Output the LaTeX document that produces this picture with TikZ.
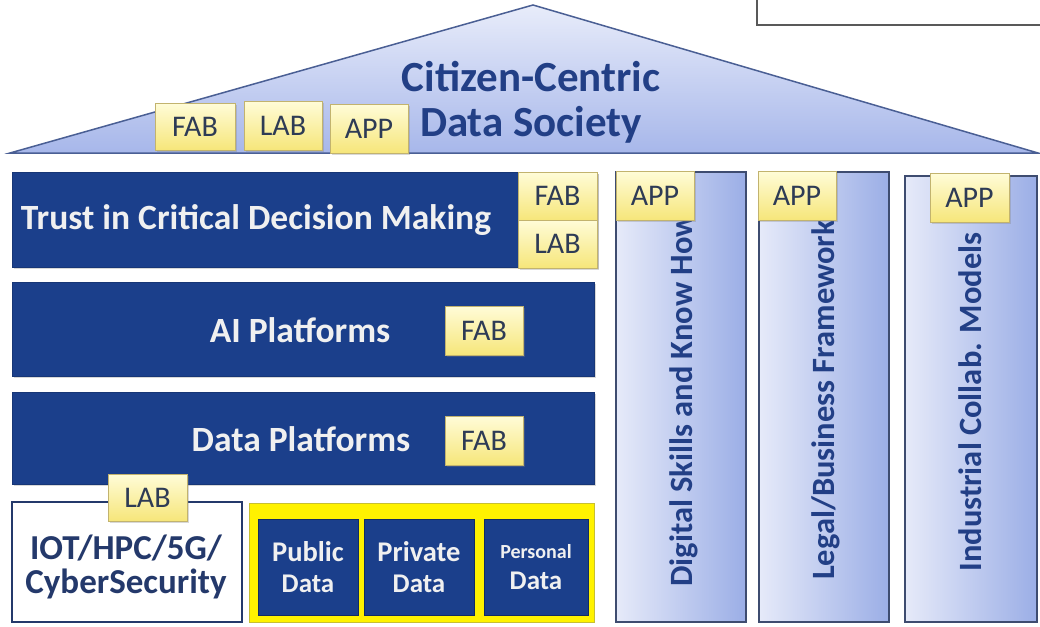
\documentclass[tikz,border=0pt]{standalone}
\usepackage{fontspec}
\setmainfont{Carlito}
\usetikzlibrary{shadows}
\definecolor{barblue}{HTML}{1B3F8B}
\definecolor{roofL}{HTML}{E8ECFA}
\definecolor{roofD}{HTML}{A7B7EA}
\definecolor{roofline}{HTML}{4A5F94}
\definecolor{titleblue}{HTML}{223F86}
\definecolor{tagtop}{HTML}{FFFCD8}
\definecolor{tagbot}{HTML}{F6E67A}
\definecolor{tagborder}{HTML}{C2B36E}
\definecolor{tagtext}{HTML}{2E3B55}
\definecolor{pilL}{HTML}{E6EAF9}
\definecolor{pilR}{HTML}{9BAEE6}
\definecolor{pilborder}{HTML}{3E4C70}
\definecolor{iotblue}{HTML}{24396B}
\tikzset{
  bar/.style={rectangle, fill=barblue, draw=barblue!85!black, line width=0.8pt, inner sep=0pt,
    drop shadow={shadow xshift=1.5pt, shadow yshift=-1.5pt, opacity=0.3}},
  bartext/.style={text=white!94!black, font=\fontsize{35.5}{38}\selectfont\bfseries},
  tag/.style={rectangle, draw=tagborder, line width=0.8pt, top color=tagtop, bottom color=tagbot,
    font=\fontsize{30}{32}\selectfont, text=tagtext, inner sep=0pt,
    drop shadow={shadow xshift=1.5pt, shadow yshift=-1.5pt, opacity=0.3}},
  pillar/.style={rectangle, draw=pilborder, line width=1.2pt, left color=pilL, right color=pilR, inner sep=0pt},
  piltext/.style={rotate=90, text=titleblue, font=\fontsize{32.5}{34}\selectfont\bfseries, inner sep=0pt},
  databox/.style={rectangle, fill=barblue, draw=barblue!70!black, line width=0.8pt, inner sep=0pt,
    text=white!94!black, align=center, font=\fontsize{27}{31}\selectfont\bfseries},
}
\begin{document}
\begin{tikzpicture}[x=1pt,y=-1pt]
\useasboundingbox (0,0) rectangle (1040,626);
\fill[white] (0,0) rectangle (1040,626);
% top right box
\node[rectangle, draw=gray!70!black, line width=1.2pt, fill=white, minimum width=303pt, minimum height=45pt, inner sep=0pt] (topbox) at (908.5,2.5) {};
% roof
\shade[top color=roofL, bottom color=roofD, draw=roofline, line width=1.5pt]
  (10,153) coordinate (roofL) -- (533,5) coordinate (roofT) -- (1038,153) coordinate (roofR) -- cycle;
\node[text=titleblue, font=\fontsize{43}{45}\selectfont\bfseries, inner sep=0pt] (title1) at (531,77) {Citizen-Centric};
\node[text=titleblue, font=\fontsize{43}{45}\selectfont\bfseries, inner sep=0pt] (title2) at (531,125) {Data Society};
\node[tag, minimum width=80pt, minimum height=47pt] (rfab) at (195,126.5) {FAB};
\node[tag, minimum width=78pt, minimum height=49pt] (rlab) at (283,125.5) {LAB};
\node[tag, minimum width=78pt, minimum height=49pt] (rapp) at (369,128.5) {APP};
% bars
\node[bar, minimum width=585pt, minimum height=95pt] (trust) at (304.5,219.5) {};
\node[bartext, inner sep=0pt] (trusttxt) at (256,220) {Trust in Critical Decision Making};
\node[tag, minimum width=79pt, minimum height=48pt] (tfab) at (557.5,196) {FAB};
\node[tag, minimum width=79pt, minimum height=48pt] (tlab) at (557.5,244) {LAB};
\node[bar, minimum width=582pt, minimum height=94pt] (ai) at (303,329) {};
\node[bartext, inner sep=0pt] (aitxt) at (300,330) {AI Platforms};
\node[tag, minimum width=78pt, minimum height=49pt] (afab) at (484,330.5) {FAB};
\node[bar, minimum width=582pt, minimum height=92pt] (data) at (303,438) {};
\node[bartext, inner sep=0pt] (datatxt) at (301,439) {Data Platforms};
\node[tag, minimum width=78pt, minimum height=49pt] (dfab) at (484,440.5) {FAB};
% IOT box
\node[rectangle, draw=iotblue, line width=2pt, fill=white, minimum width=230pt, minimum height=120pt, inner sep=0pt] (iot) at (127,562) {};
\node[text=iotblue, font=\fontsize{35}{34}\selectfont\bfseries, align=center, inner sep=0pt] (iottxt) at (126,567) {IOT/HPC/5G/\\CyberSecurity};
\node[tag, minimum width=79pt, minimum height=47pt] (ilab) at (147.5,497.5) {LAB};
% data sources
\node[rectangle, fill=yellow, draw=yellow!75!black, line width=0.8pt, minimum width=345pt, minimum height=119pt, inner sep=0pt] (ybox) at (421.5,562.5) {};
\node[databox, minimum width=100pt, minimum height=96pt] (pub) at (308,567) {{\fontsize{28.5}{31}\selectfont Public}\\Data};
\node[databox, minimum width=110pt, minimum height=96pt] (priv) at (419,567) {{\fontsize{28.5}{31}\selectfont Private}\\Data};
\node[databox, minimum width=104pt, minimum height=96pt] (pers) at (536,567)
  {{\fontsize{20}{22}\selectfont Personal}\\Data};
% pillars
\node[pillar, minimum width=130pt, minimum height=450pt] (digital) at (681,397) {};
\node[pillar, minimum width=130pt, minimum height=450pt] (legal) at (824,397) {};
\node[pillar, minimum width=132pt, minimum height=446pt] (indus) at (971,399) {};
\node[piltext] (digtxt) at (684,400) {Digital Skills and Know How};
\node[piltext] (legtxt) at (826,400) {Legal/Business Framework};
\node[piltext] (indtxt) at (970,402) {Industrial Collab. Models};
\node[tag, minimum width=78pt, minimum height=49pt] (papp1) at (655,195.5) {APP};
\node[tag, minimum width=78pt, minimum height=49pt] (papp2) at (797,195.5) {APP};
\node[tag, minimum width=79pt, minimum height=49pt] (papp3) at (969.5,197.5) {APP};
\end{tikzpicture}
\end{document}
